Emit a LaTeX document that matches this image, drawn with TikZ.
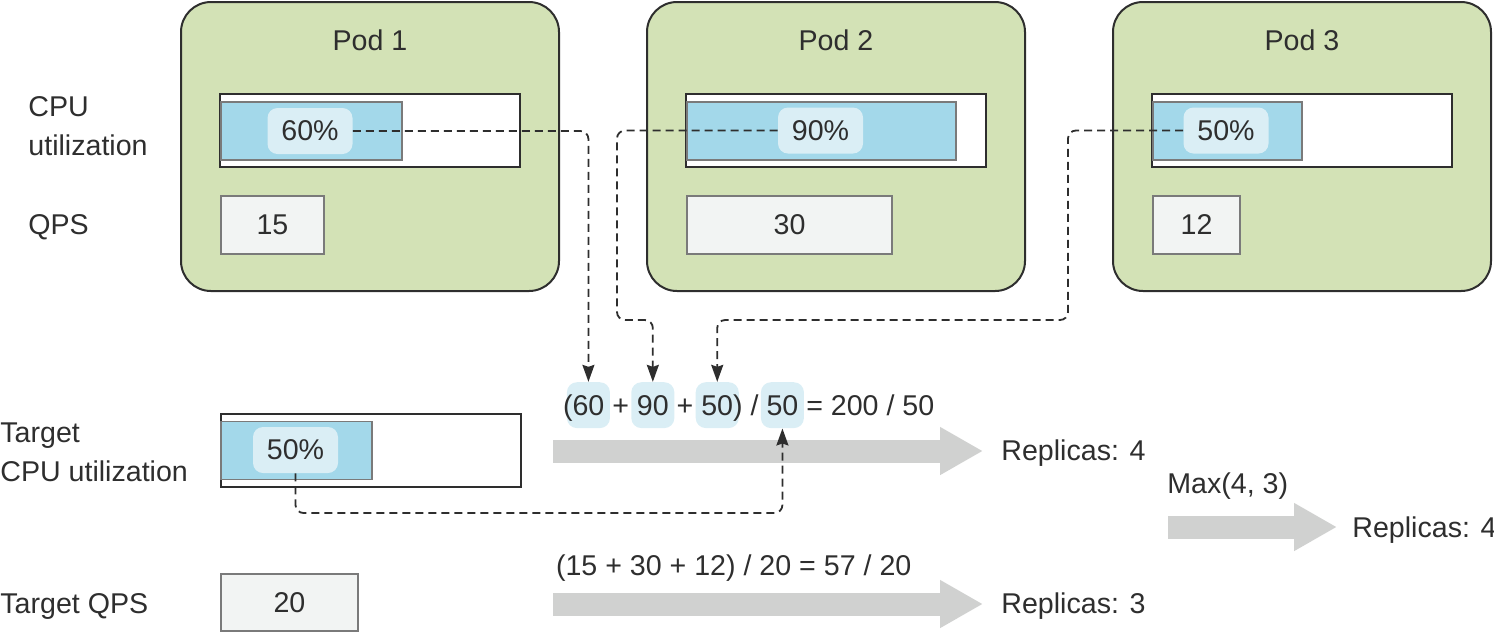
\documentclass[tikz,border=0pt]{standalone}
\usepackage{fontspec}
\setmainfont{Liberation Sans}
\usepackage{xcolor}
\usetikzlibrary{positioning,fit,backgrounds,arrows.meta}

\definecolor{podgreen}{HTML}{D3E2B6}
\definecolor{barblue}{HTML}{A3D8EA}
\definecolor{valblue}{HTML}{DAEEF5}
\definecolor{qpsgray}{HTML}{F2F4F3}
\definecolor{arrowgray}{HTML}{D0D1D0}
\definecolor{inkgray}{HTML}{2E2E2E}
\definecolor{edgegray}{HTML}{7A7A7A}

\tikzset{
  pod/.style={draw=inkgray, line width=1pt, fill=podgreen, rounded corners=15pt,
    minimum width=189pt, minimum height=144.5pt, inner sep=0pt},
  cpubar/.style={draw=inkgray, line width=1pt, fill=white,
    minimum width=150pt, minimum height=36.5pt, inner sep=0pt},
  cpufill/.style={draw=edgegray, line width=0.75pt, fill=barblue, anchor=west,
    minimum height=29pt, inner sep=0pt},
  cpuval/.style={fill=valblue, rounded corners=5pt,
    minimum width=42.5pt, minimum height=23pt, inner sep=0pt},
  qpsbox/.style={draw=edgegray, line width=1pt, fill=qpsgray, anchor=west,
    minimum height=29pt, inner sep=0pt},
  eqpart/.style={inner sep=0pt, outer sep=0pt},
  eqmark/.style={fill=valblue, rounded corners=5pt, inner xsep=2.8pt, inner ysep=6.4pt},
  link/.style={draw=inkgray, line width=0.9pt, dash pattern=on 4pt off 2.5pt,
    rounded corners=4pt, -{Stealth[length=8.5pt, width=6pt, inset=1pt]}},
  bigarrow/.style={draw=arrowgray, line width=11.5pt,
    -{Triangle[length=21.5pt, width=22.5pt]}},
  rowlabel/.style={inner sep=0pt, align=left}
}

\begin{document}
\begin{tikzpicture}[x=0.5pt, y=-0.5pt, font=\fontsize{14.3}{19.5}\selectfont, text=inkgray]
    \useasboundingbox (0, 0) rectangle (1494, 634);

    \coordinate (P1) at (370, 146.5);
    \coordinate (P2) at (836, 146.5);
    \coordinate (P3) at (1302, 146.5);

    \coordinate (T2) at (617, 320);
    \coordinate (T3) at (1068, 320);
    \coordinate (T4) at (0, 513);

    % pods
    \node [pod] (P1Box) at (P1) {};
    \node [pod] (P2Box) at (P2) {};
    \node [pod] (P3Box) at (P3) {};
    \node [anchor=base] (P1Name) at (370, 50) {Pod 1};
    \node [anchor=base] (P2Name) at (836, 50) {Pod 2};
    \node [anchor=base] (P3Name) at (1302, 50) {Pod 3};

    \node [rowlabel, anchor=west] (CPULabel) at (28, 126) {CPU\\utilization};
    \node [rowlabel, anchor=base west] (QPSLabel) at (28, 234) {QPS};

    \node [cpubar] (P1Bar) at (370, 130.5) {};
    \node [cpufill, minimum width=90.5pt] (P1Fill) at (220, 131) {};
    \node [cpuval] (P1Val) at (310, 131) {60\%};

    \node [cpubar] (P2Bar) at (836, 130.5) {};
    \node [cpufill, minimum width=134.5pt] (P2Fill) at (686, 131) {};
    \node [cpuval] (P2Val) at (820.5, 130.5) {90\%};

    \node [cpubar] (P3Bar) at (1302, 130.5) {};
    \node [cpufill, minimum width=74.5pt] (P3Fill) at (1152, 131) {};
    \node [cpuval] (P3Val) at (1226, 130.5) {50\%};

    \node [qpsbox, minimum width=51.5pt] (P1QPS) at (220, 225) {15};
    \node [qpsbox, minimum width=102.5pt] (P2QPS) at (686, 225) {30};
    \node [qpsbox, minimum width=43.5pt] (P3QPS) at (1152, 225) {12};

    % targets
    \node [rowlabel, anchor=west] (TCPULabel) at (0, 452) {Target\\CPU utilization};
    \node [cpubar] (TBar) at (370.5, 450.5) {};
    \node [cpufill, minimum width=75.5pt] (TFill) at (220, 450.5) {};
    \node [cpuval] (TVal) at (295.5, 450) {50\%};

    \node [rowlabel, anchor=base west] (TQPSLabel) at (0, 613) {Target QPS};
    \node [qpsbox, minimum width=68.5pt, minimum height=28.5pt] (TQPS) at (220, 602.5) {20};

    % cpu formula
    \node [eqpart, anchor=base west] (Q0) at (563, 415) {(};
    \node [eqpart, base right=0pt of Q0] (Q1) {60};
    \node [eqpart, base right=0pt of Q1] (Q2) {\ +\ \null};
    \node [eqpart, base right=0pt of Q2] (Q3) {90};
    \node [eqpart, base right=0pt of Q3] (Q4) {\ +\ \null};
    \node [eqpart, base right=0pt of Q4] (Q5) {50};
    \node [eqpart, base right=0pt of Q5] (Q6) {)\ /\ \null};
    \node [eqpart, base right=0pt of Q6] (Q7) {50};
    \node [eqpart, base right=0pt of Q7] (Q8) {\ =\ 200\ /\ 50};
    \begin{scope}[on background layer]
        \node [eqmark, fit=(Q1)] (H1) {};
        \node [eqmark, fit=(Q3)] (H2) {};
        \node [eqmark, fit=(Q5)] (H3) {};
        \node [eqmark, fit=(Q7)] (H4) {};
    \end{scope}

    \coordinate (A1s) at (553, 451);
    \coordinate (A1e) at (983, 451);
    \draw [bigarrow] (A1s) to (A1e);
    \node [anchor=base west, inner sep=0pt] (R1) at (1001, 460) {Replicas: 4};

    % qps formula
    \node [eqpart, anchor=base west] (QPSEq) at (556, 575) {(15 + 30 + 12) / 20 = 57 / 20};
    \coordinate (A3s) at (553, 604);
    \coordinate (A3e) at (983, 604);
    \draw [bigarrow] (A3s) to (A3e);
    \node [anchor=base west, inner sep=0pt] (R3) at (1001, 613) {Replicas: 3};

    % max
    \node [anchor=base west, inner sep=0pt] (MaxLabel) at (1167, 493) {Max(4, 3)};
    \coordinate (A2s) at (1168, 527);
    \coordinate (A2e) at (1337, 527);
    \draw [bigarrow] (A2s) to (A2e);
    \node [anchor=base west, inner sep=0pt] (R2) at (1352, 537) {Replicas: 4};

    % links
    \draw [link] (P1Val.east) -| (H1.north);
    \draw [link] (P2Val.west) -| (T2) -| (H2.north);
    \draw [link] (P3Val.west) -| (T3) -| (H3.north);
    \draw [link] (TVal.south) |- (T4 -| H4.south) to (H4.south);
  \end{tikzpicture}
\end{document}
